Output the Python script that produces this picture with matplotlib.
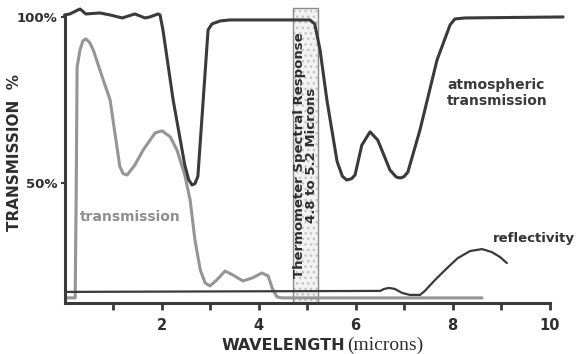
import matplotlib.pyplot as plt
from matplotlib.patches import Rectangle

# atmospheric transmission (dark curve), wavelength in microns vs %
atmo_x = [0.0, 0.11, 0.32, 0.44, 0.73, 0.94, 1.19, 1.45, 1.66, 1.76, 1.93, 1.97,
          2.03, 2.24, 2.48, 2.56, 2.63, 2.69, 2.75, 2.86, 2.96, 3.04, 3.21, 3.41,
          5.06, 5.16, 5.27, 5.41, 5.62, 5.73, 5.82, 5.92, 5.99, 6.13, 6.30, 6.46,
          6.71, 6.84, 6.92, 7.0, 7.08, 7.33, 7.68, 7.95, 8.05, 8.26, 10.28]
atmo_y = [100.6, 100.9, 102.4, 100.9, 101.2, 100.6, 99.7, 100.9, 99.7, 100.0, 100.9, 100.6,
          96.1, 75.0, 55.4, 51.0, 49.4, 49.8, 52.0, 75.0, 96.1, 97.9, 98.8, 99.1,
          99.1, 97.9, 90.0, 75.0, 56.5, 52.0, 50.9, 51.3, 52.4, 61.4, 65.4, 62.9,
          53.9, 51.8, 51.5, 51.9, 53.3, 66.0, 87.0, 97.6, 99.4, 99.7, 100.0]

# material transmission (gray curve)
trans_x = [0.0, 0.22, 0.24, 0.26, 0.32, 0.38, 0.44, 0.52, 0.60, 0.73, 0.94, 1.06,
           1.14, 1.21, 1.29, 1.45, 1.62, 1.87, 2.01, 2.18, 2.32, 2.48, 2.59, 2.69,
           2.80, 2.90, 3.00, 3.14, 3.31, 3.47, 3.68, 3.87, 4.07, 4.20, 4.28, 4.38,
           4.48, 8.61]
trans_y = [15.4, 15.4, 44.9, 84.9, 90.1, 92.8, 93.4, 92.3, 89.8, 84.0, 75.0, 63.0,
           55.0, 52.8, 52.4, 55.4, 59.9, 65.1, 65.7, 63.9, 59.9, 52.4, 44.9, 32.8,
           23.8, 19.9, 19.0, 20.8, 23.5, 22.3, 20.5, 21.4, 22.9, 22.0, 18.4, 15.7,
           15.4, 15.4]

# reflectivity
refl_x = [0.0, 6.51, 6.59, 6.69, 6.81, 6.96, 7.12, 7.33, 7.43, 7.64, 7.89, 8.11,
          8.36, 8.61, 8.81, 8.98, 9.12]
refl_y = [17.2, 17.5, 18.1, 18.4, 18.1, 16.9, 16.3, 16.3, 17.5, 20.8, 24.4, 27.4,
          29.5, 30.1, 29.2, 27.7, 25.9]

band_lo, band_hi = 4.71, 5.23
x_ticks = [1, 2, 3, 4, 5, 6, 7, 8, 9, 10]
x_labels = ["", "2", "", "4", "", "6", "", "8", "", "10"]
y_ticks = [50, 100]
y_labels = ["50%", "100%"]

dark = "#3a3a3a"
gray = "#959595"
ymin, ymax = 13.86, 103.6

fig = plt.figure(figsize=(5.78, 3.54), dpi=100)
ax = fig.add_axes([64.5 / 578, 51 / 354, 485 / 578, 298 / 354])
ax.set_xlim(0, 10)
ax.set_ylim(ymin, ymax)

# spectral response band
ax.add_patch(Rectangle((band_lo, ymin), band_hi - band_lo, 102.7 - ymin,
                       facecolor="#f2f2f2", edgecolor="#c4c4c4", hatch="...",
                       linewidth=0, zorder=1))
ax.add_patch(Rectangle((band_lo, ymin), band_hi - band_lo, 102.7 - ymin,
                       fill=False, edgecolor="#8a8a8a", linewidth=1, zorder=1.5))

ax.plot(trans_x, trans_y, color=gray, lw=2.2, zorder=2,
        solid_joinstyle="round", solid_capstyle="round")
ax.plot(refl_x, refl_y, color=dark, lw=1.6, zorder=3,
        solid_joinstyle="round", solid_capstyle="round")
ax.plot(atmo_x, atmo_y, color=dark, lw=2.2, zorder=3, clip_on=False,
        solid_joinstyle="round", solid_capstyle="round")

bold = dict(family="DejaVu Sans", fontweight="bold")
ax.text((band_lo + band_hi) / 2, 58.4,
        "Thermometer Spectral Response\n4.8 to 5.2 Microns",
        rotation=90, ha="center", va="center", multialignment="center",
        fontsize=9.5, color="#2e2e2e", linespacing=0.95, zorder=4, **bold)
ax.text(7.89, 77.1, "atmospheric\ntransmission", ha="left", va="center",
        fontsize=10, color="#3a3a3a", linespacing=1.15, **bold)
ax.text(0.32, 39.8, "transmission", ha="left", va="center",
        fontsize=10, color="#8f8f8f", **bold)
ax.text(8.84, 33.4, "reflectivity", ha="left", va="center",
        fontsize=9.5, color="#333333", **bold)

for s in ["top", "right"]:
    ax.spines[s].set_visible(False)
ax.spines["left"].set_bounds(ymin, 100.6)
ax.spines["bottom"].set_bounds(0, 10)
for s in ["left", "bottom"]:
    ax.spines[s].set_linewidth(2.2)
    ax.spines[s].set_color(dark)

ax.set_xticks(x_ticks)
ax.set_xticklabels(x_labels, fontsize=10.5, color="#2e2e2e", **bold)
ax.set_yticks(y_ticks)
ax.set_yticklabels(y_labels, fontsize=9.5, color="#2e2e2e", **bold)
ax.tick_params(axis="x", length=5, width=2, color=dark, pad=6)
ax.tick_params(axis="y", length=3, width=1.5, color=dark, pad=2)

fig.text(15 / 578, 1 - 153 / 354, "TRANSMISSION  %", rotation=90,
         ha="center", va="center", fontsize=11, color="#2e2e2e", **bold)
fig.text(345 / 578, 4 / 354, "WAVELENGTH", ha="right", va="baseline",
         fontsize=11.5, color="#2e2e2e", **bold)
fig.text(347 / 578, 4 / 354, "(microns)", ha="left", va="baseline",
         fontsize=14, color="#2e2e2e", family="Liberation Serif")

fig.savefig("out.png", dpi=100, facecolor="white")
